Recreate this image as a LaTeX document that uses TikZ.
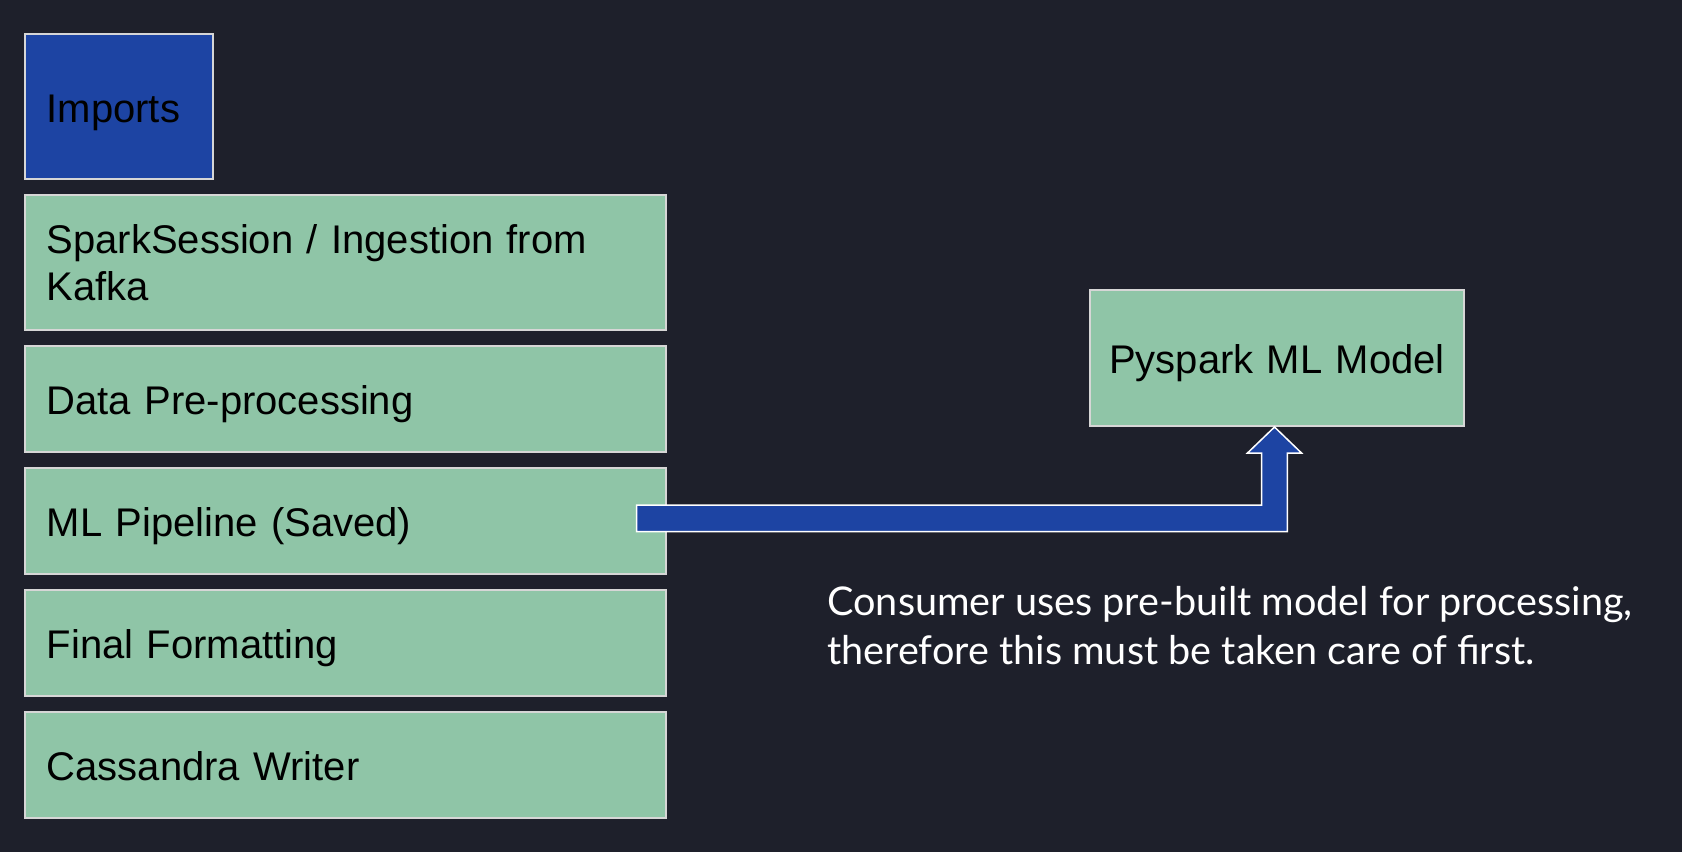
\documentclass[tikz,border=0pt]{standalone}
\usepackage{fontspec}
\setmainfont{Liberation Sans}
\newfontfamily\notefont{Lato}
\usepackage{xcolor}
\usetikzlibrary{positioning,calc}
\definecolor{slidebg}{HTML}{1E202B}
\definecolor{stagegreen}{HTML}{8FC5A7}
\definecolor{importblue}{HTML}{1D44A3}
\definecolor{edgegray}{HTML}{D6D6D6}

\begin{document}
\begin{tikzpicture}[x=0.5pt,y=-0.5pt,
    stage/.style={draw=edgegray,line width=1pt,fill=stagegreen,text=black,
        font=\fontsize{20}{23.4}\selectfont,align=left,inner xsep=11pt,inner ysep=0pt,
        text height=20pt,text depth=4.7pt,
        text width=298.5pt,minimum height=53pt,anchor=north west},
    note/.style={text=white,font=\notefont\fontsize{19.8}{24.5}\selectfont,align=left,inner sep=0pt},
    bigarrow/.style={fill=importblue,draw=white,line width=0.75pt,line join=miter}]
    % Slide background
    \fill[slidebg] (0,0) rectangle (1682,852);
    \useasboundingbox (0,0) rectangle (1682,852);

    % Consumer stages
    \node[stage,fill=importblue,text width=72pt,minimum height=72.5pt] (imports) at (23.7,33.3) {Imports};
    \node[stage,text height={},text depth={},minimum height=67.5pt,below=7pt of imports.south west,anchor=north west] (spark) {SparkSession / Ingestion from\\Kafka};
    \node[stage,below=7pt of spark] (prep) {Data Pre-processing};
    \node[stage,below=7pt of prep] (pipe) {ML Pipeline (Saved)};
    \node[stage,below=7pt of pipe] (final) {Final Formatting};
    \node[stage,below=7pt of final] (writer) {Cassandra Writer};

    % Saved model
    \node[stage,align=center,inner xsep=5pt,text width=177pt,minimum height=68pt] (model) at (1089,289) {Pyspark ML Model};

    % Pipeline feeds the model
    \coordinate (tail) at ([xshift=-15pt,yshift=1.5pt]pipe.east);
    \coordinate (tip) at ([xshift=-1.25pt]model.south);
    \draw[bigarrow] let \p1=(tail), \p2=(tip) in
        (\x1,\y1+6.6pt) -- (\x2-6.4pt,\y1+6.6pt) -- (\x2-6.4pt,\y2-13pt) -- (\x2-13.5pt,\y2-13pt)
        -- (\x2,\y2) -- (\x2+13.5pt,\y2-13pt) -- (\x2+6.4pt,\y2-13pt) -- (\x2+6.4pt,\y1-6.6pt)
        -- (\x1,\y1-6.6pt) -- cycle;

    \node[note,anchor=base west] (remark) at (827,664) {Consumer uses pre-built model for processing,\\therefore this must be taken care of first.};
\end{tikzpicture}
\end{document}
